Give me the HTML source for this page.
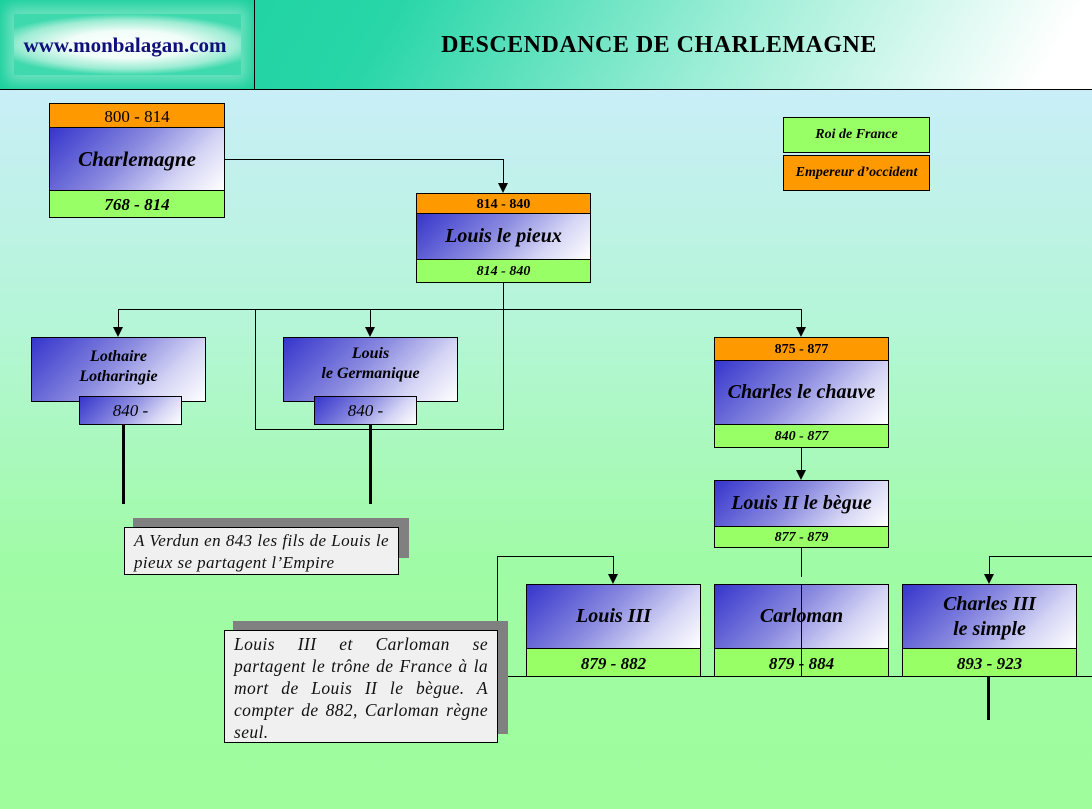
<!DOCTYPE html>
<html><head><meta charset="utf-8"><style>
*{margin:0;padding:0;box-sizing:border-box}
body{width:1092px;height:809px;position:relative;overflow:hidden;font-family:"Liberation Serif",serif;background:linear-gradient(180deg,#c9eef8 0px,#c9eef8 90px,#b4f6d6 330px,#a0fba6 560px,#9ffd9c 809px)}
.a{position:absolute}
.hdr{left:0;top:0;width:1092px;height:90px;border-bottom:1px solid #000;background:linear-gradient(120deg,#16cf9c 0%,#28d6a8 35%,#9ceed6 65%,#ffffff 95%)}
.logo{left:0;top:0;width:255px;height:89px;border-right:1px solid #000;background:#16cf9c;overflow:hidden}
.logo i{position:absolute;left:14px;top:14px;width:227px;height:61px;background:radial-gradient(ellipse 60% 50% at 50% 50%,#fff 0%,#f0fdf8 45%,#9decd3 80%,#3fd9ae 100%);box-shadow:0 0 14px 8px #6fe2c0}
.o{background:#ff9900;border:1px solid #000;text-align:center;font-weight:bold;color:#000}
.g{background:#99ff66;border:1px solid #000;text-align:center;font-weight:bold;font-style:italic}
.b{background:linear-gradient(135deg,#3535cc 0%,#8a8ae0 45%,#d5d5f5 75%,#ffffff 100%);border:1px solid #000;text-align:center;font-weight:bold;font-style:italic;display:flex;align-items:center;justify-content:center;line-height:1.25}
.h{height:1px;background:#000}
.v{width:1px;background:#000}
.t{width:3px;background:#000}
.ar{width:0;height:0;border-left:5px solid transparent;border-right:5px solid transparent;border-top:10px solid #000}
.note{background:#f0f0f0;border:1px solid #000;font-style:italic;font-size:17px;line-height:22px;padding:2px 9px;text-align:justify;color:#111;letter-spacing:0.4px}
.sh{background:#808080}
</style></head><body>
<div class="a hdr"></div>
<div class="a logo"><i></i></div>
<div class="a" style="left:0;top:33px;width:250px;text-align:center;font-weight:bold;font-size:21px;color:#10107a">www.monbalagan.com</div>
<div class="a" style="left:256px;top:32px;width:806px;text-align:center;font-weight:bold;font-size:24px;letter-spacing:0.5px">DESCENDANCE DE CHARLEMAGNE</div>

<!-- legend -->
<div class="a g" style="left:783px;top:117px;width:147px;height:36px;line-height:34px;font-size:14px">Roi de France</div>
<div class="a o" style="left:783px;top:155px;width:147px;height:36px;line-height:34px;font-size:14px;font-style:italic">Empereur d’occident</div>

<!-- connectors -->
<div class="a h" style="left:224px;top:159px;width:280px"></div>
<div class="a v" style="left:503px;top:159px;height:26px"></div>
<div class="a ar" style="left:498px;top:183px"></div>
<div class="a v" style="left:503px;top:282px;height:148px"></div>
<div class="a h" style="left:118px;top:309px;width:684px"></div>
<div class="a v" style="left:118px;top:309px;height:20px"></div>
<div class="a ar" style="left:113px;top:327px"></div>
<div class="a v" style="left:370px;top:309px;height:20px"></div>
<div class="a ar" style="left:365px;top:327px"></div>
<div class="a v" style="left:801px;top:309px;height:20px"></div>
<div class="a ar" style="left:796px;top:327px"></div>
<div class="a v" style="left:255px;top:309px;height:121px"></div>
<div class="a h" style="left:255px;top:429px;width:249px"></div>
<div class="a t" style="left:122px;top:424px;height:80px"></div>
<div class="a v" style="left:801px;top:447px;height:25px"></div>
<div class="a ar" style="left:796px;top:470px"></div>
<div class="a v" style="left:801px;top:547px;height:30px"></div>
<div class="a h" style="left:497px;top:556px;width:117px"></div>
<div class="a v" style="left:497px;top:556px;height:121px"></div>
<div class="a v" style="left:613px;top:556px;height:20px"></div>
<div class="a ar" style="left:608px;top:574px"></div>
<div class="a h" style="left:989px;top:556px;width:103px"></div>
<div class="a v" style="left:989px;top:556px;height:20px"></div>
<div class="a ar" style="left:984px;top:574px"></div>

<!-- Charlemagne -->
<div class="a o" style="left:49px;top:103px;width:176px;height:25px;line-height:25px;font-size:17px;font-weight:normal">800 - 814</div>
<div class="a b" style="left:49px;top:127px;width:176px;height:64px;font-size:21px">Charlemagne</div>
<div class="a g" style="left:49px;top:190px;width:176px;height:28px;line-height:28px;font-size:17px">768 - 814</div>

<!-- Louis le pieux -->
<div class="a o" style="left:416px;top:193px;width:175px;height:21px;line-height:21px;font-size:14px">814 - 840</div>
<div class="a b" style="left:416px;top:213px;width:175px;height:47px;font-size:20px">Louis le pieux</div>
<div class="a g" style="left:416px;top:259px;width:175px;height:24px;line-height:24px;font-size:14px">814 - 840</div>

<!-- Lothaire -->
<div class="a b" style="left:31px;top:337px;width:175px;height:65px;font-size:16px;padding-bottom:6px">Lothaire<br>Lotharingie</div>
<div class="a b" style="left:79px;top:396px;width:103px;height:29px;font-size:17px;font-weight:normal">840 -</div>

<!-- Louis le Germanique -->
<div class="a b" style="left:283px;top:337px;width:175px;height:65px;font-size:16px;padding-bottom:12px">Louis<br>le Germanique</div>
<div class="a b" style="left:314px;top:396px;width:103px;height:29px;font-size:17px;font-weight:normal">840 -</div>
<div class="a t" style="left:369px;top:424px;height:80px"></div>

<!-- Charles le chauve -->
<div class="a o" style="left:714px;top:337px;width:175px;height:24px;line-height:24px;font-size:14px">875 - 877</div>
<div class="a b" style="left:714px;top:360px;width:175px;height:65px;font-size:20px">Charles le chauve</div>
<div class="a g" style="left:714px;top:424px;width:175px;height:24px;line-height:24px;font-size:14px">840 - 877</div>

<!-- Louis II -->
<div class="a b" style="left:714px;top:480px;width:175px;height:47px;font-size:20px">Louis II le bègue</div>
<div class="a g" style="left:714px;top:526px;width:175px;height:22px;line-height:22px;font-size:14px">877 - 879</div>

<!-- bottom row -->
<div class="a b" style="left:526px;top:584px;width:175px;height:65px;font-size:20px">Louis III</div>
<div class="a g" style="left:526px;top:648px;width:175px;height:29px;line-height:29px;font-size:17px;border-bottom:none">879 - 882</div>
<div class="a b" style="left:714px;top:584px;width:175px;height:65px;font-size:20px">Carloman</div>
<div class="a g" style="left:714px;top:648px;width:175px;height:29px;line-height:29px;font-size:17px;border-bottom:none">879 - 884</div>
<div class="a b" style="left:902px;top:584px;width:175px;height:65px;font-size:20px">Charles III<br>le simple</div>
<div class="a g" style="left:902px;top:648px;width:175px;height:29px;line-height:29px;font-size:17px;border-bottom:none">893 - 923</div>
<div class="a v" style="left:801px;top:584px;height:93px"></div>
<div class="a h" style="left:497px;top:676px;width:595px"></div>
<div class="a t" style="left:987px;top:676px;height:44px"></div>

<!-- notes -->
<div class="a sh" style="left:133px;top:518px;width:276px;height:40px"></div>
<div class="a note" style="left:124px;top:527px;width:275px;height:48px;padding-top:2px">A Verdun en 843 les fils de Louis le pieux se partagent l’Empire</div>
<div class="a sh" style="left:233px;top:621px;width:275px;height:113px"></div>
<div class="a note" style="left:224px;top:630px;width:274px;height:113px;padding-top:2px;font-size:17.5px">Louis III et Carloman se partagent le trône de France à la mort de Louis II le bègue. A compter de 882, Carloman règne seul.</div>
</body></html>
